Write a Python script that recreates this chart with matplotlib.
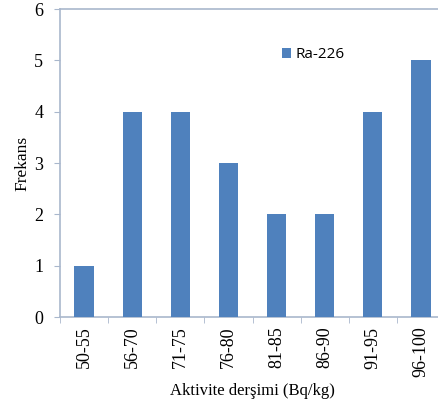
import matplotlib
matplotlib.use("Agg")
import matplotlib.pyplot as plt
import numpy as np
from matplotlib.patches import Patch

categories = ["50-55", "56-70", "71-75", "76-80", "81-85", "86-90", "91-95", "96-100"]
values = [1, 4, 4, 3, 2, 2, 4, 5]
series_name = "Ra-226"

fig = plt.figure(figsize=(4.38, 4.08), dpi=100)
ax = fig.add_axes([60/438, 91/408, 385/438, 308/408])

x = np.arange(len(categories))
ax.bar(x, values, width=0.4, color="#4F81BD", zorder=3)

ax.set_xlim(-0.5, len(categories) - 0.5)
ax.set_ylim(0, 6)
ax.set_yticks(range(0, 7))
ax.set_yticklabels([str(i) for i in range(0, 7)], family="Liberation Serif", fontsize=13)

ax.set_xticks(x)
ax.set_xticklabels(categories, rotation=90, family="Liberation Serif", fontsize=13)
ax.set_xticks(np.arange(-0.5, len(categories)), minor=True)
ax.tick_params(axis="x", which="major", length=0, pad=7)
ax.tick_params(axis="x", which="minor", length=4, color="#A9B7CC", direction="out")
ax.tick_params(axis="y", length=4.5, color="#A9B7CC", direction="out", pad=7.5)

spine_c = "#A9B7CC"
ax.spines["right"].set_visible(False)
for s in ["left", "bottom", "top"]:
    ax.spines[s].set_color(spine_c)
    ax.spines[s].set_linewidth(1.2)

ax.set_xlabel("Aktivite derşimi (Bq/kg)", family="Liberation Serif", fontsize=12, labelpad=4)
ax.set_ylabel("Frekans", family="Liberation Serif", fontsize=12.5, labelpad=2.5)

handle = Patch(facecolor="#4F81BD", edgecolor="none")
ax.legend([handle], [series_name], loc="upper left", bbox_to_anchor=(0.54, 0.92),
          frameon=False, prop={"family": "Open Sans", "size": 11},
          handlelength=0.6, handleheight=0.6, handletextpad=0.3)

fig.savefig("out.png", dpi=100)
